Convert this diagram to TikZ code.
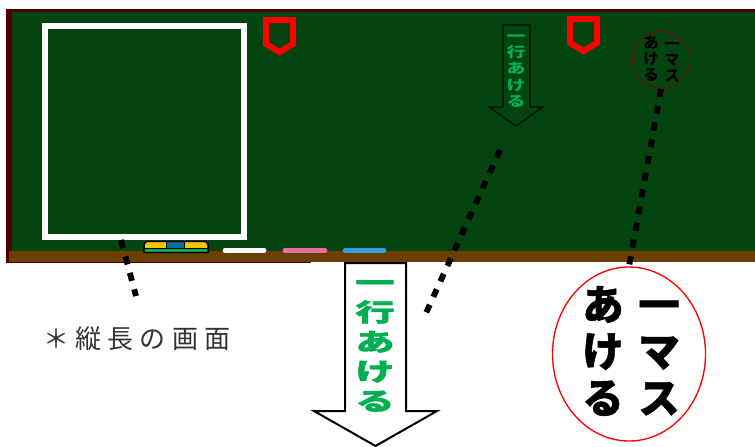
\documentclass[tikz,border=0pt]{standalone}
\usepackage{fontspec}
\usetikzlibrary{shapes.geometric}
\newfontfamily\cjk{Noto Sans CJK JP}
\newfontfamily\cjkblack{Noto Sans CJK JP Black}
\newfontfamily\cjkheavy[FakeBold=1.2]{Noto Sans CJK JP Black}
\definecolor{boardgreen}{RGB}{3,68,17}
\definecolor{boardedge}{RGB}{80,0,0}
\definecolor{trayedge}{RGB}{107,62,2}
\definecolor{markgreen}{RGB}{0,176,80}
\definecolor{eraseryellow}{RGB}{255,192,0}
\definecolor{eraserblue}{RGB}{0,112,160}
\definecolor{chalkpink}{RGB}{230,110,160}
\definecolor{chalkblue}{RGB}{46,160,215}
\tikzset{
  dotline/.style={line width=4.4pt,dash pattern=on 6.2pt off 6.55pt},
  shield/.style={draw=red,line width=4.5pt,miter limit=4},
  chalk/.style={line width=3.6pt,line cap=round},
  stacktext/.style={inner sep=0pt,align=center}
}
\begin{document}
\begin{tikzpicture}[x=0.75pt,y=0.75pt,yscale=-1,xscale=1]
\useasboundingbox (0,0) rectangle (755,446);

%Board
\fill [boardedge] (6,9) rectangle (755,263);
\fill [boardgreen] (12,12) rectangle (755,251);
\fill [trayedge] (9,251) rectangle (755,261.5);
\fill [white] (311,262) rectangle (755,264);

%Screen frame
\draw [white,line width=4.5pt] (45,26) rectangle (244,237);

%Shields
\draw [shield] (266,20) -- (293,20) -- (293,44) -- (279.5,52) -- (266,44) -- cycle;
\draw [shield] (570,19) -- (597,19) -- (597,43) -- (583.5,51) -- (570,43) -- cycle;

%Eraser
\fill [eraseryellow] (145,248) -- (145,245) .. controls (145,242) and (147,242) .. (149,242) -- (203,242) .. controls (206,242) and (207,243) .. (207,246) -- (207,248) -- cycle;
\fill [eraserblue] (167,242) rectangle (184,248);
\fill [markgreen] (145,249) rectangle (207,252);
\draw [line width=0.9pt] (144,252.5) -- (144,246) .. controls (144,243) and (145,241.5) .. (147,241.5) -- (206,241.5) .. controls (207,241.5) and (208.5,243) .. (208.5,246) -- (208.5,252.5) -- cycle;
\draw [line width=0.9pt] (144,248.5) -- (208.5,248.5);
\draw [line width=0.9pt] (166.5,241.5) -- (166.5,248.5) (184.5,241.5) -- (184.5,248.5);

%Chalks
\draw [chalk,white] (225,250.5) -- (264,250.5);
\draw [chalk,chalkpink] (285,250.5) -- (325,250.5);
\draw [chalk,chalkblue] (345,250.5) -- (384,250.5);

%Small arrow
\draw [line width=0.8pt,color=black!85!boardgreen] (503,25) -- (530,25) -- (530,107) -- (543,107) -- (516,126) -- (489,107) -- (503,107) -- cycle;

%Big arrow
\draw [fill=white,line width=1.5pt] (345,263) -- (406,263) -- (406,411) -- (437,411) -- (375.5,446) -- (314,411) -- (345,411) -- cycle;

%Circles
\node (smallcircle) [draw=boardedge!70!red,ellipse,inner sep=0pt,minimum width=57pt*0.75,minimum height=57pt*0.75,line width=0.6pt] at (661,60) {};
\node (bigcircle) [draw=red,ellipse,inner sep=0pt,minimum width=153pt*0.75,minimum height=174pt*0.75,line width=1pt] at (629,354) {};

%Dotted leaders
\coordinate (screenfoot) at (121,240);
\coordinate (screenend) at (136,296);
\coordinate (arrowfoot) at (500,150);
\coordinate (arrowend) at (426,313);
\draw [dotline] (screenfoot) -- (screenend);
\draw [dotline] (arrowfoot) -- (arrowend);
\draw [dotline] (smallcircle.south) -- (bigcircle.north);

% Text Node
\node (smallarrowtext) [stacktext,text=markgreen,xscale=1.35,font=\fontsize{10.5}{12.2}\cjkblack] at (516,71) {一\\行\\あ\\け\\る};
% Text Node
\node (bigarrowtext) [stacktext,text=markgreen,xscale=1.6,font=\fontsize{18.5}{22.2}\cjkheavy] at (375,346) {一\\行\\あ\\け\\る};
% Text Node
\node (smallright) [stacktext,font=\fontsize{11.5}{12.1}\cjkblack] at (672,62) {一\\マ\\ス};
% Text Node
\node (smallleft) [stacktext,font=\fontsize{11.5}{12.1}\cjkblack] at (651,59) {あ\\け\\る};
% Text Node
\node (bigright) [stacktext,font=\fontsize{31}{35}\cjkheavy] at (659,358) {一\\マ\\ス};
% Text Node
\node (bigleft) [stacktext,font=\fontsize{31}{35}\cjkheavy] at (603,351) {あ\\け\\る};
% Text Node
\node (caption) [anchor=west,inner sep=0pt,text=black!80,font=\fontsize{19.5}{22}\cjk\addfontfeature{LetterSpace=24}] at (43,339) {＊縦長の画面};
\end{tikzpicture}
\end{document}
